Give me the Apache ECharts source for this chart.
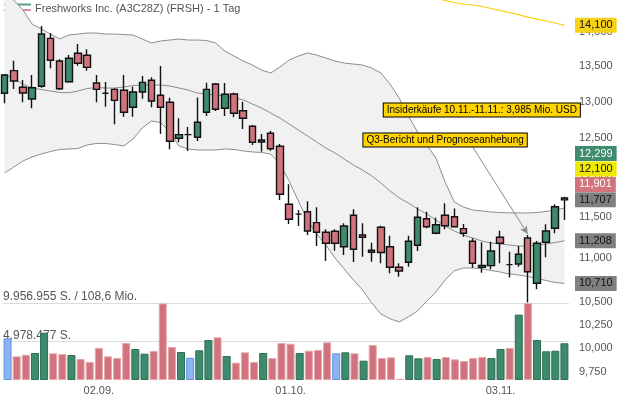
<!DOCTYPE html>
<html><head><meta charset="utf-8">
<script src="https://cdn.jsdelivr.net/npm/echarts@6/dist/echarts.min.js"></script>
<style>html,body{margin:0;padding:0;background:#fff}#c{width:619px;height:399px}</style>
</head><body><div id="c"></div>
<script>
const categories = ['18.08.','19.08.','20.08.','21.08.','22.08.','25.08.','26.08.','27.08.','28.08.','29.08.',
 '02.09.','03.09.','04.09.','05.09.','08.09.','09.09.','10.09.','11.09.','12.09.','15.09.',
 '16.09.','17.09.','18.09.','19.09.','22.09.','23.09.','24.09.','25.09.','26.09.','29.09.',
 '30.09.','01.10.','02.10.','03.10.','06.10.','07.10.','08.10.','09.10.','10.10.','13.10.',
 '14.10.','15.10.','16.10.','17.10.','20.10.','21.10.','22.10.','23.10.','24.10.','27.10.',
 '28.10.','29.10.','30.10.','31.10.','03.11.','04.11.','05.11.','06.11.','07.11.','10.11.',
 '11.11.','12.11.'];
const opens = [13115,13435,13199,13035,13213,13906,13574,13278,13686,13657,
 13259,13115,13170,13157,12921,13133,13298,13087,12990,12501,
 12550,12514,12852,13245,12907,13105,12874,12663,12452,12568,
 12395,11652,11530,11560,11426,11309,11321,11137,11516,11277,
 11071,11370,11137,10895,10953,11154,11474,11297,11516,11499,
 11353,11201,10895,10914,11249,10926,10934,11241,10711,11189,
 11358,11730];
const closes = [13373,13288,13119,13193,13970,13584,13179,13613,13541,13483,
 13170,13115,13017,12852,13133,13269,13008,12921,12461,12550,
 12550,12716,13170,12894,13101,12838,12770,12448,12478,12363,
 11777,11467,11530,11325,11309,11178,11178,11385,11106,11249,
 11094,11068,10895,10852,11201,11492,11377,11401,11389,11377,
 11297,10942,10918,11086,11178,10926,11047,10844,11178,11325,
 11622,11707];
const lows = [12976,13175,12990,12907,13193,13469,13161,13264,13506,13434,
 12990,12929,12689,12792,12792,13039,12921,12558,12355,12448,
 12333,12465,12802,12870,12802,12784,12625,12412,12324,12337,
 11705,11410,11385,11277,11145,10969,11090,11039,10957,11019,
 10961,10943,10826,10787,10902,11086,11358,11285,11346,11370,
 11257,10891,10833,10872,10942,10776,10902,10495,10643,11012,
 11297,11458];
const highs = [13387,13578,13302,13373,14090,13981,13598,13661,13822,13744,
 13373,13274,13184,13373,13207,13359,13340,13502,13053,12770,
 12652,13058,13264,13259,13259,13123,12998,12680,12558,12598,
 12425,11903,11581,11689,11614,11346,11346,11418,11589,11418,
 11185,11389,11268,10942,11268,11614,11560,11487,11664,11601,
 11410,11237,11189,11197,11329,11078,11145,11277,11205,11406,
 11652,11745];
const volumes = [5390000,3060000,3270000,3490000,6120000,3450000,3360000,3230000,2720000,2330000,
 4140000,3060000,2840000,4780000,4010000,3400000,3750000,9900000,4270000,3620000,
 2880000,3840000,5170000,5520000,3100000,2240000,3580000,2330000,3490000,2840000,
 4780000,4690000,3490000,3790000,3880000,4870000,3450000,3580000,3450000,2500000,
 4530000,2840000,2930000,150000,3190000,2800000,2970000,2720000,2970000,2670000,
 2460000,2840000,2970000,2840000,4010000,4140000,8450000,9956955,5170000,3710000,
 3790000,4750000];
const bbUpper = [14610,14486,14332,14119,14045,13970,13896,13955,13970,13985,
 13985,13970,13970,13963,13955,13896,13837,13866,13881,13896,
 13881,13881,13874,13837,13719,13646,13574,13516,13445,13402,
 13487,13588,13646,13690,13661,13617,13574,13545,13530,13516,
 13473,13402,13245,13047,12801,12585,12412,12241,11932,11680,
 11618,11581,11569,11557,11550,11545,11545,11545,11550,11563,
 11581,11606];
const bbMiddle = [13387,13316,13245,13189,13168,13147,13126,13123,13147,13182,
 13196,13189,13189,13203,13224,13231,13231,13231,13217,13189,
 13161,13119,13105,13091,13077,13057,13022,12966,12911,12842,
 12774,12693,12612,12532,12452,12372,12307,12229,12150,12086,
 12009,11919,11818,11731,11668,11594,11532,11459,11385,11325,
 11277,11241,11205,11181,11169,11157,11145,11145,11157,11169,
 11187,11208];
const bbLower = [12047,12124,12202,12254,12293,12326,12353,12359,12366,12412,
 12432,12432,12418,12399,12492,12639,12733,12713,12585,12399,
 12359,12346,12346,12346,12359,12353,12333,12320,12313,12293,
 12163,11945,11693,11459,11289,11157,11004,10876,10749,10635,
 10489,10367,10313,10279,10334,10400,10511,10612,10749,10853,
 10887,10887,10876,10858,10841,10818,10806,10789,10766,10743,
 10720,10710];
const longAverage = [null,null,null,null,null,null,null,null,null,null,
 null,null,null,null,null,null,null,null,null,null,
 null,null,null,null,null,null,null,null,null,null,
 null,null,null,null,null,null,null,null,null,null,
 null,null,null,null,null,null,14564,14517,14478,14447,
 14424,14409,14386,14355,14324,14294,14263,14225,14195,14165,
 14135,14100];
const priceTicks = [9750,10000,10250,10500,11000,11500,12000,12500,13000,13500,14000];
const priceTags = [14100,12299,12100,11901,11707,11208,10710];
const turnoverText = '108,6 Mio.';
const titleText = 'Freshworks Inc. (A3C28Z) (FRSH) - 1 Tag';
const notes = [
  {text:'Insiderkäufe 10.11.-11.11.: 3,985 Mio. USD', date:'30.10.', price:12883},
  {text:'Q3-Bericht und Prognoseanhebung', date:'24.10.', price:12478}
];
const arrowFrom = {date:'29.10.', price:12386};
const arrowTo = {date:'06.11.', price:11289};

// ---------- styling ----------
const FONT = 'Liberation Sans, Arial, sans-serif';
const GREEN = '#3e8a6d', RED = '#d0737c';
const tagStyles = [
  {bg:'#f7d117', fg:'#111'}, {bg:'#3e8b6e', fg:'#fff'}, {bg:'#f0ea00', fg:'#111'},
  {bg:'#d1747d', fg:'#fff'}, {bg:'#808080', fg:'#111'}, {bg:'#808080', fg:'#111'}, {bg:'#808080', fg:'#111'}
];
const volStyles = {
  up:{color:GREEN, borderColor:'#2d6e55', borderWidth:1},
  down:{color:RED, borderColor:'#e3a7ad', borderWidth:1},
  flat:{color:'#8db4f2', borderColor:'#5f93e2', borderWidth:1}
};
const fmtComma = v => String(Math.round(v)).replace(/\B(?=(\d{3})+(?!\d))/g, ',');
const fmtDot = v => String(Math.floor(v)).replace(/\B(?=(\d{3})+(?!\d))/g, '.');

const candleData = opens.map((o,i)=>[o, closes[i], lows[i], highs[i]]);
const volData = volumes.map((v,i)=>{
  let k = 'flat';
  if (i > 0) k = closes[i] > closes[i-1] ? 'up' : (closes[i] < closes[i-1] ? 'down' : 'flat');
  return {value:v, itemStyle:volStyles[k]};
});
const bandWidth = bbUpper.map((u,i)=>u - bbLower[i]);
const volMax = Math.max(...volumes);

const chart = echarts.init(document.getElementById('c'), null, {renderer:'canvas'});
const tagLines = priceTags.map((v,i)=>({
  yAxis: v,
  lineStyle:{color:'rgba(0,0,0,0)', width:0},
  label:{show:true, position:'end', distance:6, formatter: fmtComma(v),
    color:tagStyles[i].fg, backgroundColor:tagStyles[i].bg, padding:[2,4,2,4],
    fontSize:11, lineHeight:11, fontFamily:FONT}
}));
const arrowLine = [
  {coord:[arrowFrom.date, arrowFrom.price], symbol:'none'},
  {coord:[arrowTo.date, arrowTo.price], symbol:'arrow', symbolSize:[6,8],
   lineStyle:{color:'#8a8a8a', width:1, type:'solid'}, label:{show:false}}
];

chart.setOption({
  animation:false,
  textStyle:{fontFamily:FONT},
  title:{text:titleText, left:35, top:3, padding:0,
    textStyle:{fontSize:11, fontWeight:'normal', color:'#555', fontFamily:FONT}},
  graphic:[
    {type:'line', shape:{x1:4,y1:4.5,x2:31,y2:4.5}, style:{stroke:'#5c9e83', lineWidth:2}},
    {type:'line', shape:{x1:4,y1:10,x2:31,y2:10}, style:{stroke:'#dc8f97', lineWidth:2}}
  ],
  grid:[
    {left:0, top:0, width:569, height:380},
    {left:0, top:303, width:569, height:77}
  ],
  xAxis:[
    {type:'category', gridIndex:0, data:categories, boundaryGap:true, show:false},
    {type:'category', gridIndex:1, data:categories, boundaryGap:true,
     axisLine:{show:false}, axisTick:{show:false},
     axisLabel:{fontSize:11, color:'#555', margin:5, fontFamily:FONT,
       interval:(i,v)=> i>0 && v.slice(3,5)!==categories[i-1].slice(3,5)}}
  ],
  yAxis:[
    {type:'log', gridIndex:0, position:'right', min:9662, max:14486,
     axisLine:{show:false}, axisTick:{show:false}, splitLine:{show:false},
     axisLabel:{show:true, customValues:priceTicks, formatter:v=>fmtComma(v),
       fontSize:11, color:'#555', margin:10, fontFamily:FONT}},
    {type:'value', gridIndex:1, position:'left', min:0, max:volMax, interval:volMax/2,
     axisLine:{show:false}, axisTick:{show:false},
     splitLine:{show:true, showMinLine:false, lineStyle:{color:'#dcdcdc', width:1}},
     axisLabel:{inside:true, margin:0, verticalAlign:'bottom', fontSize:12, color:'#555', fontFamily:FONT,
       formatter:v=> v<=0 ? '' : (v>=volMax-1 ? fmtDot(v)+' S. / '+turnoverText : fmtDot(v)+' S.')}}
  ],
  series:[
    {name:'bbLower', type:'line', xAxisIndex:0, yAxisIndex:0, data:bbLower, stack:'bb',
     symbol:'none', silent:true, z:1, lineStyle:{color:'#8d8d8d', width:1}},
    {name:'bbBand', type:'line', xAxisIndex:0, yAxisIndex:0, data:bandWidth, stack:'bb',
     symbol:'none', silent:true, z:1, lineStyle:{color:'#8d8d8d', width:1},
     areaStyle:{color:'#f1f1f1', opacity:1}},
    {name:'bbMiddle', type:'line', xAxisIndex:0, yAxisIndex:0, data:bbMiddle,
     symbol:'none', silent:true, z:1, lineStyle:{color:'#8d8d8d', width:1}},
    {name:'longAverage', type:'line', xAxisIndex:0, yAxisIndex:0, data:longAverage,
     symbol:'none', silent:true, z:1, lineStyle:{color:'#f4d20a', width:1.2}},
    {name:'volume', type:'bar', xAxisIndex:1, yAxisIndex:1, data:volData, barWidth:8, z:2, silent:true},
    {name:'price', type:'candlestick', xAxisIndex:0, yAxisIndex:0, data:candleData, barWidth:7, z:3,
     itemStyle:{color:GREEN, color0:RED, borderColor:'#111', borderColor0:'#111', borderColorDoji:'#111', borderWidth:1.4},
     markLine:{silent:true, symbol:['none','none'], animation:false,
       data: tagLines.concat([arrowLine])},
     markPoint:{silent:true, animation:false,
       data: notes.map(n=>({coord:[n.date, n.price], symbol:'rect', symbolSize:[1,1],
         itemStyle:{color:'rgba(0,0,0,0)'},
         label:{show:true, position:'inside', formatter:n.text, color:'#000', fontSize:10, fontFamily:FONT,
           backgroundColor:'#ffd400', borderColor:'#000', borderWidth:1, padding:[2,3,1,3]}}))}
    }
  ]
});
</script></body></html>
